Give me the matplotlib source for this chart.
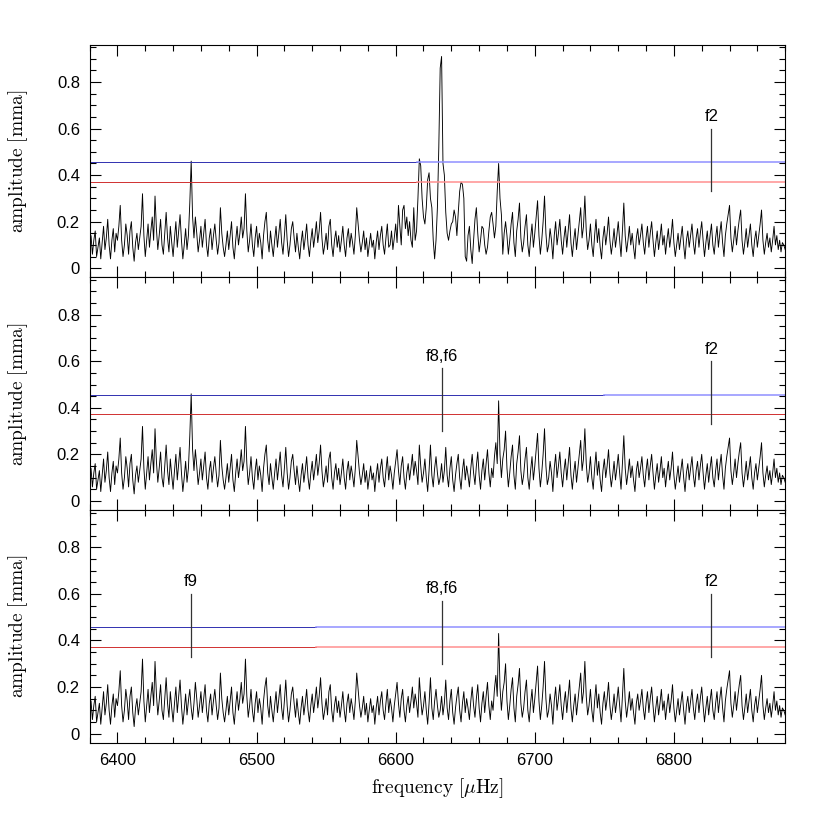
import numpy as np
import matplotlib as mpl
mpl.use('Agg')
import matplotlib.pyplot as plt
from matplotlib.ticker import MultipleLocator, FuncFormatter

mpl.rcParams.update({
    "font.family": ["Liberation Sans", "DejaVu Sans"],
    "mathtext.fontset": "cm",
    "font.size": 12,
    "xtick.direction": "in",
    "ytick.direction": "in",
    "xtick.top": True,
    "ytick.right": True,
    "axes.linewidth": 0.8,
})

# amplitude spectrum after prewhitening (mma), 1 muHz steps from 6380
f_start = 6380
noise = [
    0.10, 0.14, 0.06, 0.12, 0.16, 0.05, 0.09, 0.13, 0.04, 0.11, 0.18, 0.08, 0.13, 0.21, 0.10, 0.04, 0.12, 0.17, 0.07, 0.15,
    0.12, 0.18, 0.27, 0.12, 0.05, 0.10, 0.19, 0.14, 0.06, 0.16, 0.20, 0.09, 0.03, 0.11, 0.15, 0.08, 0.13, 0.18, 0.32, 0.14,
    0.05, 0.12, 0.19, 0.09, 0.16, 0.22, 0.12, 0.31, 0.17, 0.08, 0.14, 0.21, 0.10, 0.06, 0.15, 0.24, 0.13, 0.07, 0.18, 0.11,
    0.05, 0.13, 0.20, 0.09, 0.16, 0.23, 0.12, 0.04, 0.10, 0.17, 0.08, 0.14, 0.19, 0.11, 0.06, 0.13, 0.22, 0.15, 0.07, 0.12,
    0.18, 0.09, 0.15, 0.21, 0.10, 0.05, 0.13, 0.17, 0.08, 0.14, 0.19, 0.12, 0.06, 0.11, 0.26, 0.15, 0.09, 0.05, 0.10, 0.16,
    0.08, 0.14, 0.20, 0.09, 0.04, 0.12, 0.18, 0.10, 0.15, 0.22, 0.13, 0.17, 0.32, 0.16, 0.07, 0.12, 0.19, 0.10, 0.05, 0.13,
    0.18, 0.09, 0.15, 0.11, 0.04, 0.14, 0.20, 0.24, 0.12, 0.07, 0.16, 0.10, 0.05, 0.12, 0.18, 0.09, 0.15, 0.21, 0.11, 0.06,
    0.14, 0.23, 0.12, 0.05, 0.10, 0.17, 0.20, 0.13, 0.07, 0.15, 0.09, 0.04, 0.11, 0.16, 0.08, 0.13, 0.19, 0.10, 0.05, 0.12,
    0.17, 0.09, 0.14, 0.20, 0.11, 0.16, 0.24, 0.13, 0.06, 0.10, 0.15, 0.08, 0.18, 0.21, 0.10, 0.05, 0.12, 0.16, 0.09, 0.14,
    0.07, 0.12, 0.18, 0.10, 0.05, 0.13, 0.17, 0.09, 0.15, 0.11, 0.06, 0.14, 0.26, 0.19, 0.12, 0.07, 0.11, 0.16, 0.08, 0.13,
    0.05, 0.10, 0.15, 0.09, 0.12, 0.04, 0.11, 0.16, 0.08, 0.14, 0.18, 0.10, 0.06, 0.13, 0.19, 0.09, 0.15, 0.11, 0.05, 0.12,
    0.17, 0.22, 0.13, 0.07, 0.15, 0.19, 0.10, 0.05, 0.12, 0.16, 0.09, 0.14, 0.20, 0.11, 0.17, 0.13, 0.07, 0.24, 0.15, 0.08,
    0.12, 0.18, 0.10, 0.04, 0.13, 0.24, 0.11, 0.06, 0.14, 0.19, 0.12, 0.07, 0.10, 0.16, 0.08, 0.13, 0.23, 0.11, 0.06, 0.14,
    0.19, 0.09, 0.04, 0.11, 0.16, 0.20, 0.10, 0.05, 0.13, 0.18, 0.09, 0.15, 0.11, 0.06, 0.14, 0.20, 0.12, 0.07, 0.15, 0.21,
    0.11, 0.05, 0.13, 0.18, 0.09, 0.16, 0.22, 0.12, 0.06, 0.14, 0.10, 0.19, 0.25, 0.16, 0.43, 0.20, 0.10, 0.18, 0.22, 0.30,
    0.14, 0.06, 0.12, 0.19, 0.24, 0.11, 0.05, 0.16, 0.21, 0.28, 0.13, 0.07, 0.11, 0.18, 0.23, 0.10, 0.05, 0.13, 0.19, 0.09,
    0.15, 0.22, 0.29, 0.14, 0.06, 0.12, 0.20, 0.31, 0.15, 0.07, 0.10, 0.17, 0.12, 0.04, 0.14, 0.20, 0.10, 0.15, 0.21, 0.12,
    0.06, 0.13, 0.18, 0.09, 0.16, 0.23, 0.11, 0.05, 0.12, 0.17, 0.08, 0.14, 0.20, 0.26, 0.13, 0.18, 0.31, 0.16, 0.08, 0.12,
    0.19, 0.10, 0.05, 0.14, 0.21, 0.11, 0.17, 0.09, 0.04, 0.13, 0.18, 0.10, 0.15, 0.22, 0.12, 0.06, 0.11, 0.17, 0.09, 0.14,
    0.20, 0.12, 0.05, 0.16, 0.28, 0.14, 0.07, 0.12, 0.18, 0.10, 0.15, 0.09, 0.04, 0.13, 0.17, 0.10, 0.14, 0.19, 0.11, 0.06,
    0.13, 0.18, 0.09, 0.15, 0.20, 0.12, 0.05, 0.11, 0.16, 0.08, 0.13, 0.19, 0.10, 0.14, 0.06, 0.12, 0.17, 0.09, 0.14, 0.21,
    0.11, 0.05, 0.10, 0.15, 0.08, 0.13, 0.18, 0.10, 0.04, 0.12, 0.16, 0.09, 0.14, 0.19, 0.11, 0.06, 0.13, 0.17, 0.09, 0.15,
    0.20, 0.12, 0.05, 0.11, 0.16, 0.08, 0.14, 0.19, 0.10, 0.06, 0.13, 0.18, 0.09, 0.15, 0.20, 0.11, 0.05, 0.14, 0.19, 0.23,
    0.27, 0.13, 0.07, 0.12, 0.18, 0.10, 0.16, 0.21, 0.25, 0.12, 0.06, 0.11, 0.17, 0.09, 0.14, 0.19, 0.10, 0.05, 0.12, 0.16,
    0.09, 0.14, 0.19, 0.25, 0.12, 0.06, 0.11, 0.15, 0.09, 0.13, 0.07, 0.12, 0.18, 0.10, 0.14, 0.08, 0.12, 0.07, 0.11, 0.10,
    0.08,
]

# original spectrum around the dominant peak (top panel), 6596..6679
top_start = 6596
top_region = [
    0.10, 0.16, 0.08, 0.13, 0.19, 0.11, 0.27, 0.18, 0.10, 0.25, 0.27, 0.17, 0.22, 0.14, 0.20, 0.12, 0.09, 0.26, 0.12, 0.16,
    0.30, 0.47, 0.44, 0.30, 0.22, 0.19, 0.26, 0.38, 0.41, 0.30, 0.26, 0.12, 0.04, 0.12, 0.26, 0.52, 0.86, 0.91, 0.45, 0.40,
    0.24, 0.15, 0.12, 0.16, 0.19, 0.20, 0.25, 0.22, 0.14, 0.24, 0.33, 0.37, 0.36, 0.30, 0.05, 0.03, 0.14, 0.18, 0.08, 0.02,
    0.12, 0.21, 0.26, 0.15, 0.07, 0.12, 0.18, 0.17, 0.10, 0.06, 0.09, 0.16, 0.22, 0.24, 0.19, 0.13, 0.18, 0.33, 0.45, 0.30,
    0.23, 0.06, 0.15, 0.20,
]

# peak near 6453 (removed in the last step)
peak_f = [6452, 6453, 6454]
peak_amp = [0.28, 0.46, 0.22]

# significance levels (mma)
level_hi = 0.456
level_lo = 0.372
# where the level lines change shade, per panel
split_hi = [6615, 6750, 6543]
split_lo = [6615, 6880, 6543]

# identified frequencies marked per panel
marks = [
    [("f2", 6827, 0.33, 0.60)],
    [("f8,f6", 6633, 0.30, 0.57), ("f2", 6827, 0.33, 0.60)],
    [("f9", 6453, 0.33, 0.60), ("f8,f6", 6633, 0.30, 0.57), ("f2", 6827, 0.33, 0.60)],
]

freq = f_start + np.arange(len(noise))
base = np.array(noise)

amp1 = base.copy()
i0 = top_start - f_start
amp1[i0:i0 + len(top_region)] = top_region
amp2 = base.copy()
for f, a in zip(peak_f, peak_amp):
    amp1[f - f_start] = a
    amp2[f - f_start] = a
amp3 = base.copy()
spectra = [amp1, amp2, amp3]

fig = plt.figure(figsize=(8.3, 8.3), dpi=100)
fig.subplots_adjust(left=0.108, right=0.946, top=0.946, bottom=0.105, hspace=0)
axes = fig.subplots(3, 1, sharex=True)

for k, ax in enumerate(axes):
    ax.plot(freq, spectra[k], color='black', lw=0.65)
    ax.plot([f_start, split_hi[k]], [level_hi, level_hi], color='#3030b0', lw=0.7)
    ax.plot([split_hi[k], 6880], [level_hi, level_hi], color='#9090ff', lw=1.1)
    ax.plot([f_start, split_lo[k]], [level_lo, level_lo], color='#d03030', lw=0.7)
    if split_lo[k] < 6880:
        ax.plot([split_lo[k], 6880], [level_lo, level_lo], color='#ff9090', lw=1.1)
    for name, f, y0, y1 in marks[k]:
        ax.plot([f, f], [y0, y1], color='#333333', lw=0.9)
        ax.text(f, y1 + 0.02, name, ha='center', va='bottom', fontsize=12)

    ax.set_xlim(6380, 6880)
    ax.set_ylim(-0.04, 0.96)
    ax.xaxis.set_major_locator(MultipleLocator(100))
    ax.xaxis.set_minor_locator(MultipleLocator(20))
    ax.yaxis.set_major_locator(MultipleLocator(0.2))
    ax.yaxis.set_minor_locator(MultipleLocator(0.05))
    ax.yaxis.set_major_formatter(FuncFormatter(lambda v, p: '%g' % round(v, 2)))
    ax.tick_params(which='major', length=8, width=0.8, labelsize=12, pad=7)
    ax.tick_params(which='minor', length=4.5, width=0.8)
    ax.set_ylabel(r'$\mathrm{amplitude\ [mma]}$', fontsize=14)
    ax.yaxis.set_label_coords(-0.086, 0.5)

axes[2].set_xlabel(r'$\mathrm{frequency}\ [\mu\mathrm{Hz}]$', fontsize=14, labelpad=6)

fig.savefig('out.png', dpi=100)
